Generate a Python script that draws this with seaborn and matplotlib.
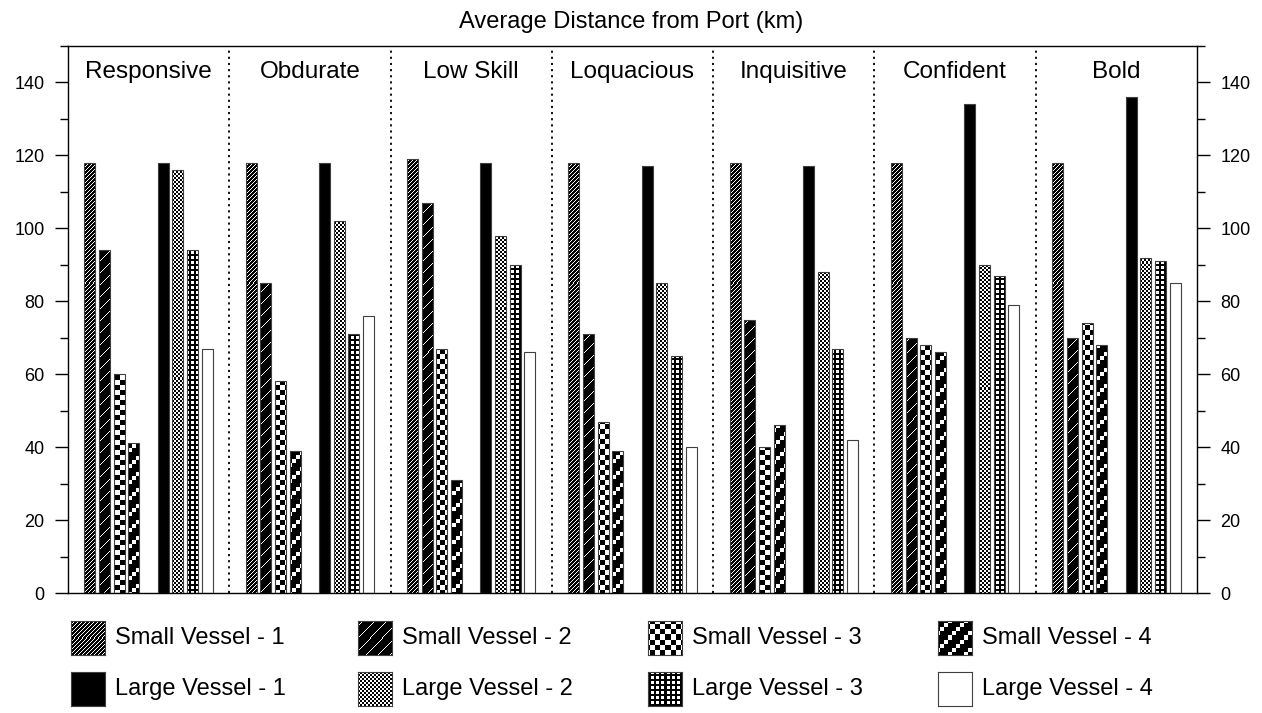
import numpy as np
import pandas as pd
import matplotlib
matplotlib.use("Agg")
import matplotlib.pyplot as plt
import seaborn as sns
from matplotlib.ticker import MultipleLocator

traits = ["Responsive", "Obdurate", "Low Skill", "Loquacious", "Inquisitive", "Confident", "Bold"]
series = ["Small Vessel - 1", "Small Vessel - 2", "Small Vessel - 3", "Small Vessel - 4",
          "Large Vessel - 1", "Large Vessel - 2", "Large Vessel - 3", "Large Vessel - 4"]

small_1 = [118, 118, 119, 118, 118, 118, 118]
small_2 = [94, 85, 107, 71, 75, 70, 70]
small_3 = [60, 58, 67, 47, 40, 68, 74]
small_4 = [41, 39, 31, 39, 46, 66, 68]
large_1 = [118, 118, 118, 117, 117, 134, 136]
large_2 = [116, 102, 98, 85, 88, 90, 92]
large_3 = [94, 71, 90, 65, 67, 87, 91]
large_4 = [67, 76, 66, 40, 42, 79, 85]

W, H = 1262, 713

# bitmap fills, True = black pixel (R = row from top, C = column)
patterns = {
    "Small Vessel - 1": lambda R, C: (R + C) % 4 != 0,
    "Small Vessel - 2": lambda R, C: (R + C) % 12 != 0,
    "Small Vessel - 3": lambda R, C: ((R // 5) + (C // 5)) % 2 == 0,
    "Small Vessel - 4": lambda R, C: ((R // 4) + (C // 4)) % 4 != 0,
    "Large Vessel - 1": lambda R, C: np.ones_like(R, dtype=bool),
    "Large Vessel - 2": lambda R, C: ((R // 2) + (C // 2)) % 2 == 0,
    "Large Vessel - 3": lambda R, C: ~(((R % 5) >= 1) & ((R % 5) <= 3) & ((C % 5) >= 1) & ((C % 5) <= 3)),
    "Large Vessel - 4": lambda R, C: np.zeros_like(R, dtype=bool),
}

values = dict(zip(series, [small_1, small_2, small_3, small_4, large_1, large_2, large_3, large_4]))
rows = []
for s in series:
    for t, v in zip(traits, values[s]):
        rows.append((t, s, v))
df = pd.DataFrame(rows, columns=["trait", "vessel", "km"])

# empty slots on both sides and between the two vessel sizes
hue_levels = ["_pad_a"] + series[:4] + ["_pad_b"] + series[4:] + ["_pad_c"]

sns.set_style("ticks")
plt.rcParams["font.family"] = ["Liberation Sans", "DejaVu Sans"]
plt.rcParams["text.color"] = "black"
plt.rcParams["ytick.color"] = "black"
plt.rcParams["ytick.labelcolor"] = "black"

fig = plt.figure(figsize=(W / 100, H / 100), dpi=100)
ax = fig.add_axes([68 / W, 1 - 593 / H, (1197 - 68) / W, (593 - 46) / H])

sns.barplot(data=df, x="trait", y="km", hue="vessel", order=traits, hue_order=hue_levels,
            palette=["black"] * len(hue_levels), width=1.0, gap=0.25, errorbar=None,
            legend=False, edgecolor="#404040", linewidth=0.8, ax=ax)

ax.set_xlim(-0.5, len(traits) - 0.5)
ax.set_ylim(0, 150)
ax.set_xlabel("")
ax.set_ylabel("")
ax.set_xticks([])
ax.yaxis.set_major_locator(MultipleLocator(20))
ax.yaxis.set_minor_locator(MultipleLocator(10))
ax.tick_params(axis="y", which="both", left=True, right=True, labelleft=True, labelright=True,
               direction="out", width=1, labelsize=13, pad=7.5, colors="black")
ax.tick_params(axis="y", which="major", length=9.5)
ax.tick_params(axis="y", which="minor", length=5.5)
for sp in ax.spines.values():
    sp.set_visible(True)
    sp.set_color("black")
    sp.set_linewidth(1)

for i in range(len(traits) - 1):
    ax.axvline(i + 0.5, color="black", linestyle=(0, (1.2, 2.2)), linewidth=1.3)

for i, t in enumerate(traits):
    ax.text(i, 141.2, t, ha="center", va="baseline", fontsize=17.5)

fig.text(0.5, 1 - 22 / H, "Average Distance from Port (km)", ha="center", va="center", fontsize=17)

ax.autoscale(False)
fig.canvas.draw()
inv = ax.transData.inverted()
n = len(hue_levels)
for patch in list(ax.patches):
    cx = patch.get_x() + patch.get_width() / 2
    g = int(round(cx))
    slot = int(round((cx - g + 0.5) * n - 0.5))
    name = hue_levels[slot]
    bb = patch.get_window_extent()
    x0, x1 = int(np.floor(bb.x0)), int(np.ceil(bb.x1))
    y0, y1 = int(np.floor(bb.y0)), int(np.ceil(bb.y1))
    if x1 <= x0 or y1 <= y0:
        continue
    R, C = np.meshgrid(H - np.arange(y1, y0, -1), np.arange(x0, x1), indexing="ij")
    img = np.where(patterns[name](R, C), 0.0, 1.0)
    (dx0, dy0), (dx1, dy1) = inv.transform([(x0, y0), (x1, y1)])
    im = ax.imshow(img, cmap="gray", vmin=0, vmax=1, extent=(dx0, dx1, dy0, dy1), origin="upper",
                   interpolation="nearest", aspect="auto", zorder=2)
    im.set_clip_path(patch)
    patch.set_facecolor("none")
    patch.set_zorder(3)
ax.set_xlim(-0.5, len(traits) - 0.5)
ax.set_ylim(0, 150)

# legend: 2 rows x 4 columns below the plot
icon_x = [71, 358, 648, 938]
icon_y = [621, 672]
icon = 34
for k, s in enumerate(series):
    row, col = divmod(k, 4)
    lx, ty = icon_x[col], icon_y[row]
    lax = fig.add_axes([lx / W, 1 - (ty + icon) / H, icon / W, icon / H])
    R, C = np.meshgrid(np.arange(ty, ty + icon), np.arange(lx, lx + icon), indexing="ij")
    lax.imshow(np.where(patterns[s](R, C), 0.0, 1.0), cmap="gray", vmin=0, vmax=1,
               interpolation="nearest", aspect="auto")
    lax.set_xticks([])
    lax.set_yticks([])
    for sp in lax.spines.values():
        sp.set_color("#404040")
        sp.set_linewidth(0.8)
    fig.text((lx + icon + 10) / W, 1 - (ty + icon / 2) / H, s, ha="left", va="center", fontsize=17)

fig.savefig("out.png", dpi=100)
